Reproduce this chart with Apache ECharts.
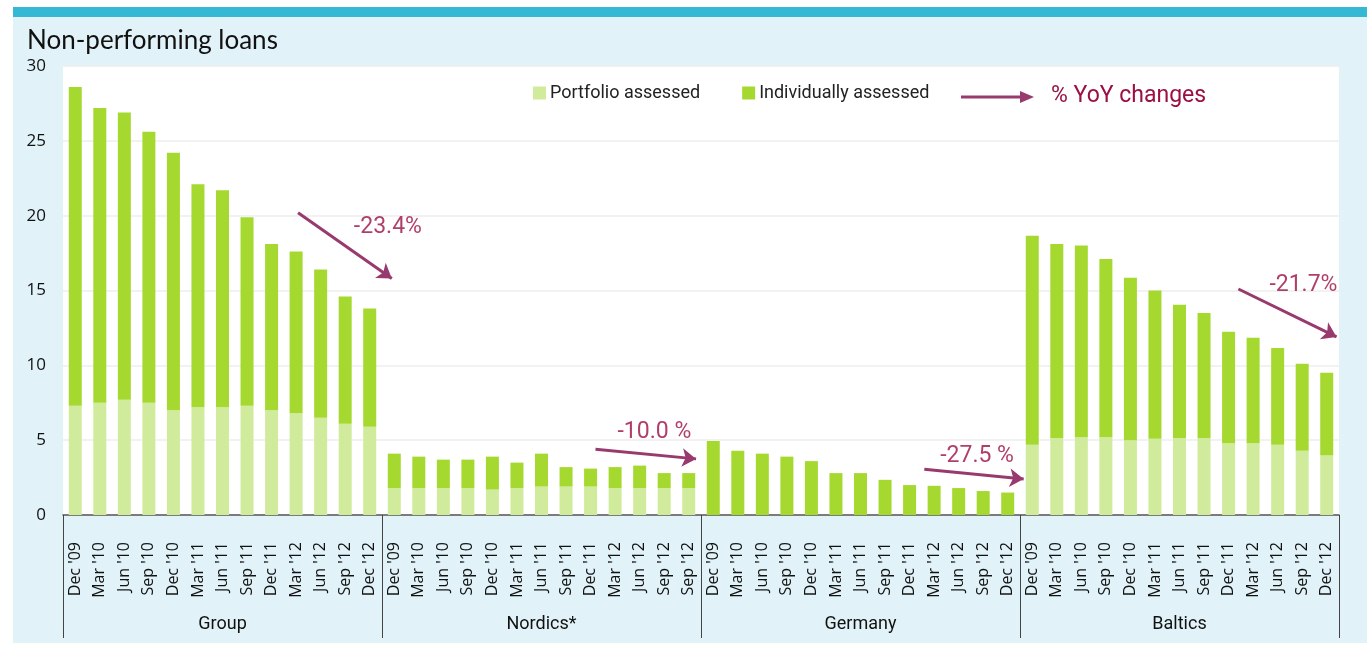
<!DOCTYPE html>
<html lang="en">
<head>
    <meta charset="UTF-8">
    <title>Non-performing loans</title>
    <script src="https://cdn.jsdelivr.net/npm/echarts@6/dist/echarts.min.js"></script>
    <style>
        html, body { margin: 0; padding: 0; background: #fff; }
        #main { width: 1367px; height: 646px; }
    </style>
</head>
<body>
<div id="main"></div>
<script>
    // quarter labels (the Nordics block ends with a repeated Sep '12 in the original)
    var quarters = ["Dec '09", "Mar '10", "Jun '10", "Sep '10", "Dec '10", "Mar '11", "Jun '11", "Sep '11", "Dec '11", "Mar '12", "Jun '12", "Sep '12", "Dec '12"];
    var nordicsQuarters = ["Dec '09", "Mar '10", "Jun '10", "Sep '10", "Dec '10", "Mar '11", "Jun '11", "Sep '11", "Dec '11", "Mar '12", "Jun '12", "Sep '12", "Sep '12"];
    var regions = ['Group', 'Nordics*', 'Germany', 'Baltics'];

    // EUR bn
    var groupPortfolio    = [7.3, 7.5, 7.7, 7.5, 7.0, 7.2, 7.2, 7.3, 7.0, 6.8, 6.5, 6.1, 5.9];
    var groupIndividual   = [21.3, 19.7, 19.2, 18.1, 17.2, 14.9, 14.5, 12.6, 11.1, 10.8, 9.9, 8.5, 7.9];
    var nordicsPortfolio  = [1.8, 1.8, 1.8, 1.8, 1.7, 1.8, 1.9, 1.9, 1.9, 1.8, 1.8, 1.8, 1.8];
    var nordicsIndividual = [2.3, 2.1, 1.9, 1.9, 2.2, 1.7, 2.2, 1.3, 1.2, 1.4, 1.5, 1.0, 1.0];
    var germanyPortfolio  = [0, 0, 0, 0, 0, 0, 0, 0, 0, 0, 0, 0, 0];
    var germanyIndividual = [4.95, 4.3, 4.1, 3.9, 3.6, 2.8, 2.8, 2.35, 2.0, 1.95, 1.8, 1.6, 1.5];
    var balticsPortfolio  = [4.7, 5.15, 5.2, 5.2, 5.0, 5.1, 5.15, 5.15, 4.8, 4.8, 4.7, 4.3, 4.0];
    var balticsIndividual = [13.95, 12.95, 12.8, 11.9, 10.85, 9.9, 8.9, 8.35, 7.45, 7.05, 6.45, 5.8, 5.5];

    var yTicks = { min: 0, max: 30, interval: 5 };

    // YoY arrows: [x1, y1, x2, y2] in (bar index, value) units
    var yoyArrows = [
        [9.08, 20.2, 12.9, 15.8],
        [21.2, 4.4, 25.3, 3.75],
        [34.6, 3.05, 38.65, 2.4],
        [47.4, 15.1, 51.4, 11.9]
    ];
    var yoyLabels = ['-23.4%', '-10.0 %', '-27.5 %', '-21.7%'];
    var yoyLabelPos = [[12.74, 19.25], [23.6, 5.55], [36.75, 3.95], [50.05, 15.35]];

    var categories = quarters.concat(nordicsQuarters, quarters, quarters);
    var portfolio = groupPortfolio.concat(nordicsPortfolio, germanyPortfolio, balticsPortfolio);
    var individual = groupIndividual.concat(nordicsIndividual, germanyIndividual, balticsIndividual);

    var maroon = '#983a6e';
    var crimson = '#9b0f45';
    var narrow = '"Liberation Sans Narrow", "Roboto", sans-serif';

    var myChart = echarts.init(document.getElementById('main'));

    var option = {
        animation: false,
        title: {
            text: 'Non-performing loans',
            left: 22,
            top: 23,
            textStyle: { fontFamily: 'Lato, sans-serif', fontSize: 26, fontWeight: 'normal', color: '#111' }
        },
        legend: {
            left: 528,
            top: 79,
            itemWidth: 13,
            itemHeight: 13,
            itemGap: 42,
            icon: 'rect',
            data: ['Portfolio assessed', 'Individually assessed'],
            textStyle: { fontFamily: narrow, fontSize: 18, color: '#222', padding: [0, 0, 0, -1] }
        },
        graphic: [
            { type: 'rect', z: -10, shape: { x: 13, y: 17, width: 1354, height: 626 }, style: { fill: '#e1f3f8' } },
            { type: 'rect', z: -10, shape: { x: 13, y: 7, width: 1354, height: 10 }, style: { fill: '#35b8d3' } },
            { type: 'line', shape: { x1: 961, y1: 97, x2: 1022, y2: 97 }, style: { stroke: maroon, lineWidth: 3 } },
            { type: 'polygon', shape: { points: [[1020, 91], [1034, 97], [1020, 103]] }, style: { fill: maroon } },
            { type: 'text', left: 1051, top: 85, style: { text: '% YoY changes', fill: crimson, font: '23px ' + narrow } }
        ],
        grid: {
            left: 63,
            right: 28,
            top: 66,
            bottom: 131,
            show: true,
            backgroundColor: '#fff',
            borderWidth: 0
        },
        xAxis: [
            {
                type: 'category',
                position: 'bottom',
                data: categories,
                axisLine: { lineStyle: { color: '#555', width: 1.5 } },
                axisTick: { show: false },
                axisLabel: {
                    interval: 0,
                    rotate: 90,
                    margin: 27,
                    fontFamily: '"Open Sans", sans-serif',
                    fontSize: 16,
                    color: '#111'
                }
            },
            {
                type: 'category',
                position: 'bottom',
                data: regions,
                axisLine: { show: false },
                axisTick: { show: true, length: 123, interval: 0, lineStyle: { color: '#444', width: 1 } },
                axisLabel: { margin: 100, fontFamily: narrow, fontSize: 18, color: '#111' }
            },
            {
                type: 'value',
                position: 'bottom',
                show: false,
                min: -0.5,
                max: 51.5
            }
        ],
        yAxis: {
            type: 'value',
            min: yTicks.min,
            max: yTicks.max,
            interval: yTicks.interval,
            axisLine: { show: false },
            axisTick: { show: false },
            axisLabel: { margin: 17, fontFamily: '"Open Sans", sans-serif', fontSize: 17, color: '#111' },
            splitLine: { lineStyle: { color: '#eeeeee', width: 1.5 } }
        },
        series: [
            {
                name: 'Portfolio assessed',
                type: 'bar',
                stack: 'npl',
                barWidth: 13,
                itemStyle: { color: '#d1eb9d' },
                data: portfolio
            },
            {
                name: 'Individually assessed',
                type: 'bar',
                stack: 'npl',
                barWidth: 13,
                itemStyle: { color: '#a5d930' },
                data: individual
            },
            {
                name: 'yoy',
                type: 'lines',
                coordinateSystem: 'cartesian2d',
                xAxisIndex: 2,
                symbol: ['none', 'arrow'],
                symbolSize: 14,
                lineStyle: { color: maroon, width: 3, opacity: 1 },
                silent: true,
                data: yoyArrows.map(function (a) {
                    return { coords: [[a[0], a[1]], [a[2], a[3]]] };
                })
            },
            {
                name: 'yoyText',
                type: 'scatter',
                xAxisIndex: 2,
                symbolSize: 0,
                silent: true,
                label: {
                    show: true,
                    position: 'inside',
                    formatter: function (p) { return yoyLabels[p.dataIndex]; },
                    fontFamily: narrow,
                    fontSize: 23,
                    color: crimson
                },
                data: yoyLabelPos
            }
        ]
    };

    myChart.setOption(option);
</script>
</body>
</html>
